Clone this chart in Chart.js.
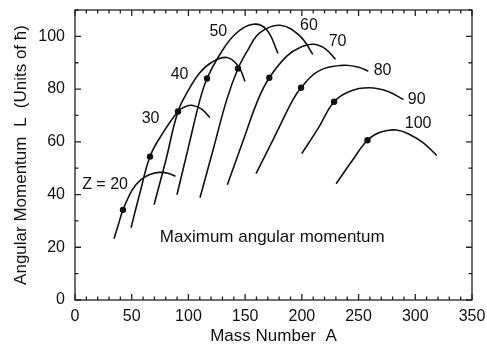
<!DOCTYPE html>
<html lang="en">
<head>
<meta charset="UTF-8">
<title>Maximum angular momentum</title>
<script src="https://cdn.jsdelivr.net/npm/chart.js"></script>
<style>
    body { margin: 0; background: #fff; }
    #wrap { width: 487px; height: 347px; }
</style>
</head>
<body>
<div id="wrap"><canvas id="lmaxChart" width="487" height="347"></canvas></div>
<script>
    // one curve per Z: mass number A and max angular momentum L (units of hbar)
    const z20A = [34.4, 38.3, 42.3, 50.5, 57.9, 66, 74, 82, 88.6];
    const z20L = [23.2, 28.7, 34.2, 41.8, 45.6, 47.6, 48.4, 48.1, 46.9];
    const z30A = [49.4, 57.3, 66.1, 75.6, 90.8, 97, 104.1, 112, 119];
    const z30L = [27.4, 40.7, 54.4, 62.1, 71.5, 73.3, 73.8, 72.3, 69.2];
    const z40A = [69.7, 80.2, 90.8, 100, 110.2, 121, 134, 144, 149.9];
    const z40L = [36.1, 53.2, 71.5, 79.6, 86.3, 90.3, 92, 88.7, 82.9];
    const z50A = [89.9, 100, 110.2, 116.4, 126.1, 141.1, 157, 169, 179];
    const z50L = [39.9, 58, 76, 84, 92, 100.8, 104.6, 102.5, 93.5];
    const z60A = [110.2, 122, 133.8, 143.7, 152.6, 163.1, 180.8, 198.4, 209.6];
    const z60L = [38.8, 57.4, 76, 87.8, 95, 101.4, 104.2, 100.1, 93.2];
    const z70A = [134.3, 147.8, 161.4, 171.3, 186.7, 198.4, 210.8, 221.3, 229.7];
    const z70L = [43.7, 59.9, 76, 84.3, 92.5, 95.8, 97, 95.1, 91.3];
    const z80A = [159.6, 176, 192.2, 199.3, 214.6, 236, 250, 258.6];
    const z80L = [47.9, 62, 76, 80.5, 86.8, 89, 88.3, 86.8];
    const z90A = [199.9, 214.6, 228.4, 242.5, 259.3, 276, 289.5];
    const z90L = [55.5, 65.3, 75.2, 79.2, 80.5, 79.1, 76];
    const z100A = [230.2, 244, 257.8, 269, 283.1, 295.4, 307.1, 319];
    const z100L = [44.1, 52.6, 60.6, 63.6, 64.5, 62.7, 59.6, 54.8];

    // filled dots (one on each curve)
    const dotA = [42.3, 66.1, 90.8, 116.4, 143.7, 171.3, 199.3, 228.4, 257.8];
    const dotL = [34.2, 54.4, 71.5, 84, 87.8, 84.3, 80.5, 75.2, 60.6];

    // curve labels, placed in data units
    const labelText = ['Z = 20', '30', '40', '50', '60', '70', '80', '90', '100'];
    const labelA = [26.5, 66.6, 92.2, 126.4, 206.3, 231.5, 271.2, 301.3, 302.5];
    const labelL = [43.6, 68.8, 85.4, 101.9, 103.9, 98.1, 86.9, 75.9, 66.8];
    const noteText = 'Maximum angular momentum';
    const noteA = 173.9;
    const noteL = 23.7;

    const xTicks = [0, 50, 100, 150, 200, 250, 300, 350];
    const yTicks = [0, 20, 40, 60, 80, 100];

    const curves = [
        [z20A, z20L], [z30A, z30L], [z40A, z40L], [z50A, z50L], [z60A, z60L],
        [z70A, z70L], [z80A, z80L], [z90A, z90L], [z100A, z100L]
    ];

    const ink = '#111';
    Chart.defaults.font.family = "'Liberation Sans', Arial, sans-serif";
    Chart.defaults.color = ink;

    function toPoints(xs, ys) {
        return xs.map((v, i) => ({ x: v, y: ys[i] }));
    }

    const datasets = curves.map(c => ({
        data: toPoints(c[0], c[1]),
        showLine: true,
        borderColor: ink,
        borderWidth: 1.6,
        pointRadius: 0,
        tension: 0.4,
        fill: false
    }));
    datasets.push({
        data: toPoints(dotA, dotL),
        showLine: false,
        pointRadius: 3.2,
        pointBackgroundColor: ink,
        pointBorderColor: ink,
        pointBorderWidth: 0
    });

    // frame with inward ticks on all four sides, plus the text annotations
    const framePlugin = {
        id: 'frame',
        afterDatasetsDraw(chart) {
            const { ctx, chartArea: a, scales: { x, y } } = chart;
            ctx.save();
            ctx.strokeStyle = '#222';
            ctx.lineWidth = 1.3;
            ctx.strokeRect(a.left, a.top, a.right - a.left, a.bottom - a.top);
            ctx.beginPath();
            for (let v = x.min; v <= x.max; v += 10) {
                const px = x.getPixelForValue(v);
                const len = v % 50 === 0 ? 6 : 3.5;
                ctx.moveTo(px, a.bottom); ctx.lineTo(px, a.bottom - len);
                ctx.moveTo(px, a.top); ctx.lineTo(px, a.top + len);
            }
            for (let v = y.min; v <= y.max; v += 10) {
                const py = y.getPixelForValue(v);
                const len = v % 20 === 0 ? 6 : 3.5;
                ctx.moveTo(a.left, py); ctx.lineTo(a.left + len, py);
                ctx.moveTo(a.right, py); ctx.lineTo(a.right - len, py);
            }
            ctx.stroke();

            ctx.fillStyle = ink;
            ctx.textAlign = 'center';
            ctx.textBaseline = 'middle';
            ctx.font = "16px 'Liberation Sans', Arial, sans-serif";
            labelText.forEach((t, i) => {
                ctx.fillText(t, x.getPixelForValue(labelA[i]), y.getPixelForValue(labelL[i]));
            });
            ctx.font = "17px 'Liberation Sans', Arial, sans-serif";
            ctx.fillText(noteText, x.getPixelForValue(noteA), y.getPixelForValue(noteL));
            ctx.restore();
        }
    };

    new Chart(document.getElementById('lmaxChart'), {
        type: 'scatter',
        data: { datasets: datasets },
        options: {
            responsive: false,
            animation: false,
            events: [],
            layout: { padding: { top: 10, right: 15, left: 0, bottom: 0 } },
            plugins: { legend: { display: false }, tooltip: { enabled: false } },
            scales: {
                x: {
                    type: 'linear',
                    min: 0,
                    max: 350,
                    afterBuildTicks: s => { s.ticks = xTicks.map(v => ({ value: v })); },
                    afterFit: s => { s.height = 47; s.paddingLeft = 0; s.paddingRight = 0; },
                    grid: { display: false, drawTicks: false },
                    border: { display: false },
                    ticks: { font: { size: 16 }, padding: 7, maxRotation: 0 },
                    title: {
                        display: true,
                        text: 'Mass Number  A',
                        font: { size: 17 },
                        padding: { top: 0, bottom: 0 }
                    }
                },
                y: {
                    type: 'linear',
                    min: 0,
                    max: 110,
                    afterBuildTicks: s => { s.ticks = yTicks.map(v => ({ value: v })); },
                    afterFit: s => { s.width = 75; s.paddingTop = 0; s.paddingBottom = 0; },
                    grid: { display: false, drawTicks: false },
                    border: { display: false },
                    ticks: { font: { size: 16 }, padding: 10 },
                    title: {
                        display: true,
                        text: 'Angular Momentum  L  (Units of ħ)',
                        font: { size: 17 },
                        padding: { top: 11, bottom: 0 }
                    }
                }
            }
        },
        plugins: [framePlugin]
    });
</script>
</body>
</html>
